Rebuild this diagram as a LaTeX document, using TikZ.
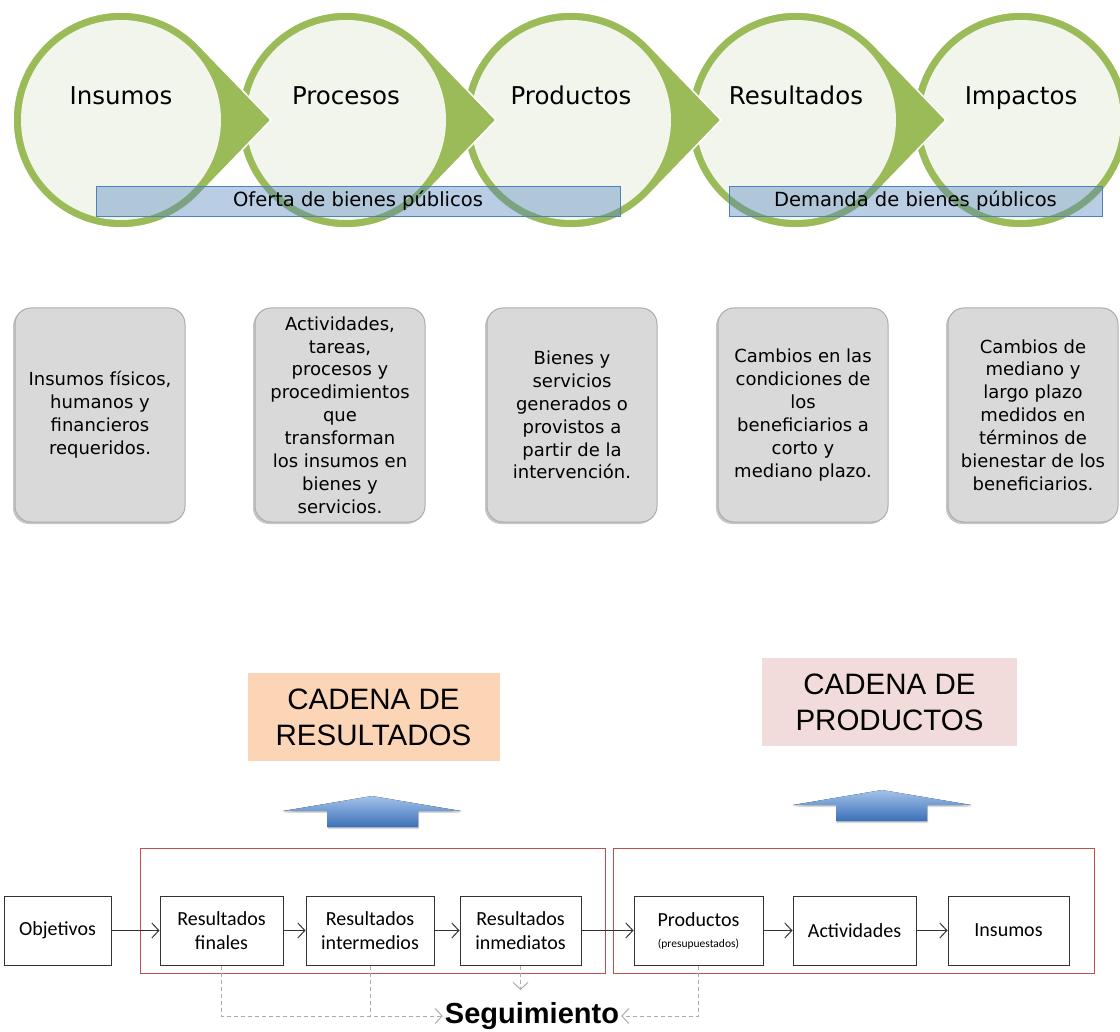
\documentclass[tikz,border=0pt]{standalone}
\usepackage{fontspec}
\setmainfont{DejaVu Sans}
\newfontfamily\calfont{Carlito}
\newfontfamily\arialfont{Liberation Sans}
\usepackage{tikz}
\usetikzlibrary{shadows,arrows.meta}

\definecolor{olivo}{HTML}{9BBB59}
\definecolor{olivoclaro}{HTML}{F2F5EC}
\definecolor{azulbanda}{HTML}{4F81BD}
\definecolor{grisfondo}{HTML}{D9D9D9}
\definecolor{durazno}{HTML}{FBD5B5}
\definecolor{rosado}{HTML}{F2DCDB}
\definecolor{rojomarco}{HTML}{C0504D}
\definecolor{azulclaro}{HTML}{A3C2EA}
\definecolor{azuloscuro}{HTML}{3B70B8}

\tikzset{
  gota/.style={fill=olivo,draw=white,line width=1.5pt},
  interior/.style={fill=olivoclaro},
  etapa/.style={anchor=base,font=\fontsize{24.5}{28}\selectfont},
  banda/.style={
    draw=azulbanda,line width=0.8pt,
    fill=azulbanda,fill opacity=0.4,text opacity=1,
    minimum height=30pt,inner sep=0pt,
    font=\fontsize{19.5}{24}\selectfont,
  },
  descripcion/.style={
    rounded corners=16pt,fill=grisfondo,draw=gray!65,line width=1pt,
    minimum width=170pt,minimum height=214pt,align=center,
    font=\fontsize{18}{22.9}\selectfont,
    drop shadow={shadow xshift=-2pt,shadow yshift=-2pt,opacity=0.45},
  },
  cadena/.style={
    minimum width=252pt,minimum height=88pt,align=center,
    font=\arialfont\fontsize{29.5}{36}\selectfont,
  },
  flechaazul/.style={top color=azulclaro,bottom color=azuloscuro,
    drop shadow={shadow xshift=1pt,shadow yshift=-2pt,opacity=0.3}},
  marco/.style={draw=rojomarco,line width=1pt},
  caja/.style={draw=black!80,line width=1pt,minimum height=69pt,
    align=center,font=\calfont\fontsize{20}{24}\selectfont},
  flecha/.style={draw=black!80,line width=1pt,
    -{Straight Barb[length=7pt,width=15pt]}},
  seg/.style={draw=gray!65,line width=1pt,dash pattern=on 4pt off 3pt},
  segflecha/.style={seg,-{Straight Barb[length=7pt,width=15pt]}},
}

\begin{document}
\begin{tikzpicture}[x=1pt,y=-1pt]
  \useasboundingbox (0,0) rectangle (1120,1032);

  % circulos de la cadena, del ultimo al primero
  \filldraw[gota] (1021,120) circle[radius=108pt];
  \fill[interior] (1021,120) circle[radius=100pt];
  \filldraw[gota] (946,120) -- (873.8,45.1)
    arc[start angle=43.9,end angle=316.1,radius=108pt] -- cycle;
  \fill[interior] (796,120) circle[radius=100pt];
  \filldraw[gota] (721,120) -- (648.8,45.1)
    arc[start angle=43.9,end angle=316.1,radius=108pt] -- cycle;
  \fill[interior] (571,120) circle[radius=100pt];
  \filldraw[gota] (496,120) -- (423.8,45.1)
    arc[start angle=43.9,end angle=316.1,radius=108pt] -- cycle;
  \fill[interior] (346,120) circle[radius=100pt];
  \filldraw[gota] (271,120) -- (198.8,45.1)
    arc[start angle=43.9,end angle=316.1,radius=108pt] -- cycle;
  \fill[interior] (121,120) circle[radius=100pt];

  \node[etapa] (insumos) at (121,105) {Insumos};
  \node[etapa] (procesos) at (346,105) {Procesos};
  \node[etapa] (productos) at (571,105) {Productos};
  \node[etapa] (resultados) at (796,105) {Resultados};
  \node[etapa] (impactos) at (1021,105) {Impactos};

  \node[banda,minimum width=524pt] (oferta) at (358,201)
    {Oferta de bienes públicos};
  \node[banda,minimum width=373pt] (demanda) at (915.5,201)
    {Demanda de bienes públicos};

  % cajas grises
  \node[descripcion] (descInsumos) at (100,415)
    {Insumos físicos,\\humanos y\\financieros\\requeridos.};
  \node[descripcion] (descProcesos) at (340,415)
    {Actividades,\\tareas,\\procesos y\\procedimientos\\que\\transforman\\
     los insumos en\\bienes y\\servicios.};
  \node[descripcion] (descProductos) at (572,415)
    {Bienes y\\servicios\\generados o\\provistos a\\partir de la\\intervención.};
  \node[descripcion] (descResultados) at (803,415)
    {Cambios en las\\condiciones de\\los\\beneficiarios a\\corto y\\mediano plazo.};
  \node[descripcion] (descImpactos) at (1033,415)
    {Cambios de\\mediano y\\largo plazo\\medidos en\\términos de\\
     bienestar de los\\beneficiarios.};

  % cadenas
  \node[cadena,fill=durazno] (cadRes) at (373.5,717) {CADENA DE\\RESULTADOS};
  \node[cadena,fill=rosado,minimum width=255pt] (cadProd) at (889.5,702)
    {CADENA DE\\PRODUCTOS};

  \fill[flechaazul] (283,811) -- (372,796) -- (461,811) -- (418,811)
    -- (418,827) -- (327,827) -- (327,811) -- cycle;
  \fill[flechaazul] (793,805) -- (882,790) -- (971,805) -- (927,805)
    -- (927,821) -- (836,821) -- (836,805) -- cycle;

  \node[marco,minimum width=465pt,minimum height=125pt] (marcoRes)
    at (372.5,910.5) {};
  \node[marco,minimum width=481pt,minimum height=125pt] (marcoProd)
    at (853.5,910.5) {};

  \node[caja,minimum width=107pt] (objetivos) at (57.5,930.5) {Objetivos};
  \node[caja,minimum width=123pt] (resFinales) at (221.5,930.5)
    {Resultados\\finales};
  \node[caja,minimum width=128pt] (resInter) at (370,930.5)
    {Resultados\\intermedios};
  \node[caja,minimum width=121pt] (resInmed) at (520.5,930.5)
    {Resultados\\inmediatos};
  \node[caja,minimum width=129pt] (prodPres) at (698.5,930.5)
    {Productos\\[-3pt]{\fontsize{11.5}{12}\selectfont(presupuestados)}};
  \node[caja,minimum width=123pt] (actividades) at (854.5,930.5)
    {Actividades};
  \node[caja,minimum width=121pt] (insumosCaja) at (1008.5,930.5)
    {Insumos};

  \draw[flecha] (objetivos) -- (resFinales);
  \draw[flecha] (resFinales) -- (resInter);
  \draw[flecha] (resInter) -- (resInmed);
  \draw[flecha] (resInmed) -- (prodPres);
  \draw[flecha] (prodPres) -- (actividades);
  \draw[flecha] (actividades) -- (insumosCaja);

  % seguimiento
  \node[font=\arialfont\bfseries\fontsize{29}{33}\selectfont,inner sep=2pt]
    (seguimiento) at (532,1016) {Seguimiento};
  \coordinate (segArriba) at (520.5,990);
  \draw[segflecha] (resFinales.south) |- (seguimiento.west);
  \draw[seg] (resInter.south) -- (resInter.south |- seguimiento.west);
  \draw[segflecha] (resInmed.south) -- (segArriba);
  \draw[segflecha] (prodPres.south) |- (seguimiento.east);

\end{tikzpicture}
\end{document}
